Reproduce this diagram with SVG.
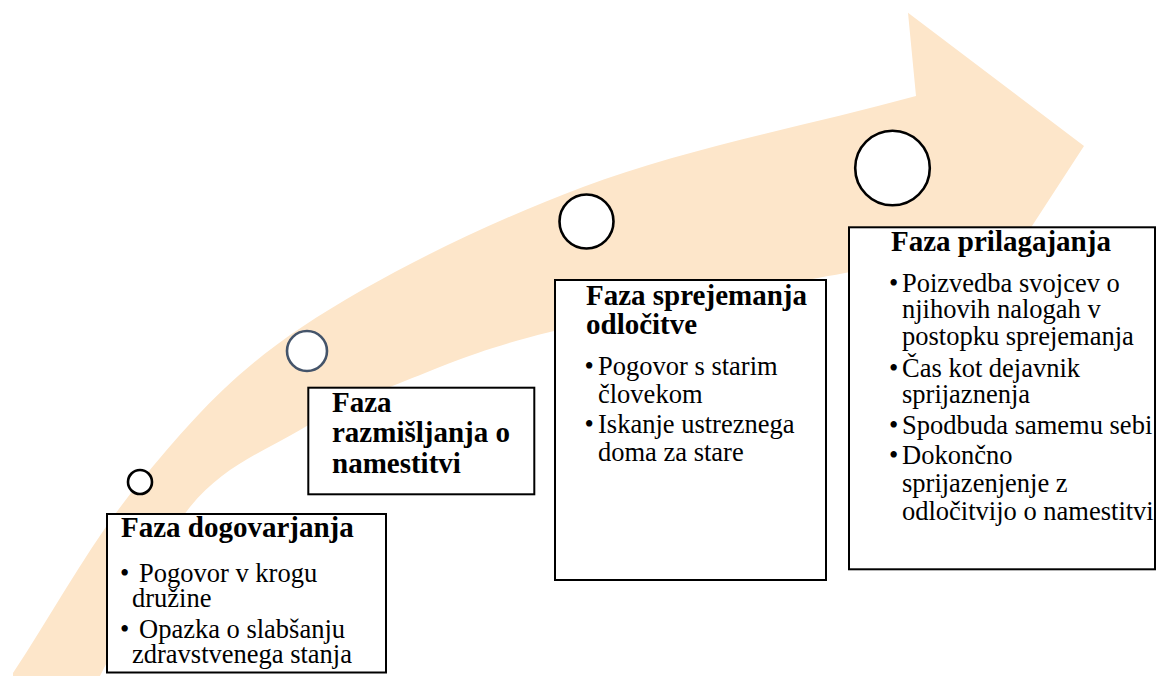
<svg xmlns="http://www.w3.org/2000/svg" width="1156" height="676" viewBox="0 0 1156 676">
<style>
.box{fill:#fff;stroke:#000;stroke-width:2}
.dot{fill:#fff;stroke:#000;stroke-width:2.6}
.t{font-family:"Liberation Serif","Times New Roman",serif;font-weight:bold;font-size:29px;fill:#000}
.b{font-family:"Liberation Serif","Times New Roman",serif;font-size:26.5px;fill:#000}
</style>
<rect width="1156" height="676" fill="#fff"/>
<g id="arrow">
<path fill="#FDE6CA" d="M13,673 C55.3,609.3 91.8,539.7 140,482 C188.2,424.3 228.2,376.2 302,327 C375.8,277.8 480.7,225.5 583,187 C685.3,148.5 805,126.3 916,96 L908,12.7 L1084,146 L1019,246 C961,255 923.2,258.7 845,273 C766.8,287.3 624.2,313.7 550,332 C475.8,350.3 441.7,366.7 400,383 C358.3,399.3 335,409.3 300,430 C265,450.7 223.3,466 190,507 C156.7,548 130,619.7 100,676 L13,676 Z"/>
</g>
<g id="markers">
<circle class="dot" cx="140" cy="482" r="12"/>
<circle class="dot" cx="307" cy="351" r="20" style="stroke:#44546A"/>
<circle class="dot" cx="586.5" cy="221.5" r="27"/>
<circle class="dot" cx="892.5" cy="168" r="37.3"/>
</g>
<g id="node1">
<rect class="box" x="107" y="514" width="279" height="158.5"/>
<text class="t" x="121" y="537">Faza dogovarjanja</text>
<text class="b" y="582"><tspan x="120">•</tspan><tspan x="139">Pogovor v krogu</tspan></text>
<text class="b" x="132" y="606.5">družine</text>
<text class="b" y="638"><tspan x="120">•</tspan><tspan x="139">Opazka o slabšanju</tspan></text>
<text class="b" x="132" y="663">zdravstvenega stanja</text>
</g>
<g id="node2">
<rect class="box" x="308.3" y="387.7" width="226" height="106.6"/>
<text class="t" x="332" y="412">Faza</text>
<text class="t" x="332" y="442">razmišljanja o</text>
<text class="t" x="332" y="472.5">namestitvi</text>
</g>
<g id="node3">
<rect class="box" x="555" y="280" width="271" height="300"/>
<text class="t" x="586" y="305">Faza sprejemanja</text>
<text class="t" x="586" y="334">odločitve</text>
<text class="b" y="374.5"><tspan x="584.5">•</tspan><tspan x="598">Pogovor s starim</tspan></text>
<text class="b" x="598" y="402.7">človekom</text>
<text class="b" y="433.3"><tspan x="584.5">•</tspan><tspan x="598">Iskanje ustreznega</tspan></text>
<text class="b" x="598" y="461">doma za stare</text>
</g>
<g id="node4">
<rect class="box" x="849" y="227.3" width="306" height="342"/>
<text class="t" x="891" y="251">Faza prilagajanja</text>
<text class="b" y="291.5"><tspan x="889">•</tspan><tspan x="902">Poizvedba svojcev o</tspan></text>
<text class="b" x="902" y="318">njihovih nalogah v</text>
<text class="b" x="902" y="345">postopku sprejemanja</text>
<text class="b" y="377"><tspan x="889">•</tspan><tspan x="902">Čas kot dejavnik</tspan></text>
<text class="b" x="902" y="403">sprijaznenja</text>
<text class="b" y="434"><tspan x="889">•</tspan><tspan x="902">Spodbuda samemu sebi</tspan></text>
<text class="b" y="464"><tspan x="889">•</tspan><tspan x="902">Dokončno</tspan></text>
<text class="b" x="902" y="491.5">sprijazenjenje z</text>
<text class="b" x="902" y="520">odločitvijo o namestitvi</text>
</g>
</svg>
